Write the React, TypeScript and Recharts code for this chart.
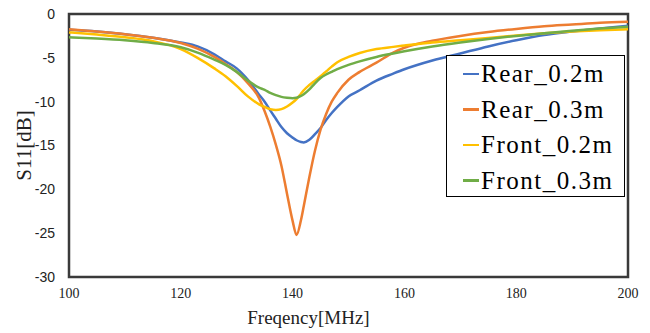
import { LineChart, Line, XAxis, YAxis, ReferenceArea, Label } from 'recharts'

const freq = [100, 105, 110, 115, 120, 123, 126, 128, 130, 132, 134, 135, 136, 137, 138, 139, 140, 140.7, 141.5, 142, 143, 144, 145, 146, 147, 148, 150, 152, 155, 158, 160, 165, 170, 175, 180, 185, 190, 195, 200]

const rear02 = [-1.8, -2.0, -2.3, -2.7, -3.25, -3.7, -4.6, -5.4, -6.2, -7.5, -9.2, -10.0, -11.0, -11.95, -12.9, -13.6, -14.1, -14.4, -14.6, -14.65, -14.35, -13.7, -13.0, -12.1, -11.3, -10.6, -9.4, -8.7, -7.6, -6.8, -6.3, -5.3, -4.5, -3.7, -3.0, -2.4, -2.0, -1.65, -1.35]
const rear03 = [-1.75, -2.0, -2.3, -2.7, -3.3, -3.95, -4.9, -5.7, -6.6, -7.9, -9.6, -11.1, -12.85, -14.9, -17.3, -20.5, -23.6, -25.2, -23.5, -21.9, -18.6, -15.6, -13.2, -11.4, -10.0, -9.0, -7.5, -6.6, -5.55, -4.4, -3.85, -3.05, -2.5, -2.05, -1.7, -1.4, -1.2, -1.0, -0.88]
const front02 = [-2.1, -2.35, -2.65, -3.1, -4.0, -5.0, -6.2, -7.1, -8.2, -9.4, -10.3, -10.6, -10.85, -10.95, -10.85, -10.55, -10.1, -9.7, -9.1, -8.7, -8.1, -7.6, -7.1, -6.55, -6.0, -5.5, -4.9, -4.45, -4.0, -3.75, -3.6, -3.25, -3.0, -2.75, -2.45, -2.2, -2.0, -1.85, -1.75]
const front03 = [-2.65, -2.8, -3.0, -3.3, -3.8, -4.4, -5.2, -5.8, -6.6, -7.6, -8.4, -8.65, -9.0, -9.25, -9.45, -9.55, -9.6, -9.55, -9.35, -9.15, -8.6, -7.9, -7.3, -6.9, -6.6, -6.3, -5.8, -5.4, -4.9, -4.5, -4.25, -3.7, -3.25, -2.85, -2.5, -2.2, -1.9, -1.65, -1.45]

const xTicks = [100, 120, 140, 160, 180, 200]
const yTicks = [0, -5, -10, -15, -20, -25, -30]

const series = [
  { key: 'rear02', label: 'Rear_0.2m', color: '#4472C4' },
  { key: 'rear03', label: 'Rear_0.3m', color: '#ED7D31' },
  { key: 'front02', label: 'Front_0.2m', color: '#FFC000' },
  { key: 'front03', label: 'Front_0.3m', color: '#70AD47' },
]

const data = freq.map((f, i) => ({
  f,
  rear02: rear02[i],
  rear03: rear03[i],
  front02: front02[i],
  front03: front03[i],
}))

const serif = '"Liberation Serif", "Times New Roman", serif'

function LegendBox() {
  return (
    <div
      style={{
        position: 'absolute',
        left: 446,
        top: 55,
        width: 177,
        height: 140,
        border: '1px solid #000',
        background: '#fff',
      }}
    >
      {series.map((s) => (
        <div key={s.key} style={{ height: 35.5, display: 'flex', alignItems: 'center' }}>
          <div style={{ width: 16, height: 2.5, background: s.color, marginLeft: 16, marginRight: 2 }} />
          <span style={{ fontFamily: serif, fontSize: 25, letterSpacing: 1.5, color: '#000', lineHeight: 1 }}>{s.label}</span>
        </div>
      ))}
    </div>
  )
}

export default function App() {
  return (
    <div style={{ position: 'absolute', left: 0, top: 0, width: 650, height: 333, background: '#fff' }}>
      <LineChart width={650} height={333} data={data} margin={{ top: 14, right: 22, left: 0, bottom: 26 }}>
        <XAxis
          dataKey="f"
          type="number"
          domain={[100, 200]}
          ticks={xTicks}
          axisLine={false}
          tickLine={false}
          tickSize={6}
          tickMargin={5}
          tick={{ fontSize: 14, fill: '#222', fontFamily: serif }}
        >
          <Label value="Freqency[MHz]" position="insideBottom" offset={-17} dx={-40} style={{ fontFamily: serif, fontSize: 19, fill: '#222' }} />
        </XAxis>
        <YAxis
          type="number"
          domain={[-30, 0]}
          ticks={yTicks}
          width={69}
          axisLine={false}
          tickLine={false}
          tickSize={6}
          tickMargin={8}
          tick={{ fontSize: 14, fill: '#222', fontFamily: 'Liberation Sans' }}
        >
          <Label value="S11[dB]" angle={-90} position="insideLeft" offset={24} style={{ fontFamily: serif, fontSize: 21, fill: '#222', textAnchor: 'middle' }} />
        </YAxis>
        <ReferenceArea x1={100} x2={200} y1={-30} y2={0} fill="none" stroke="#3a3a3a" strokeWidth={2.5} />
        {series.map((s) => (
          <Line
            key={s.key}
            type="monotone"
            dataKey={s.key}
            name={s.label}
            stroke={s.color}
            strokeWidth={2.5}
            dot={false}
            activeDot={false}
            isAnimationActive={false}
          />
        ))}
      </LineChart>
      <LegendBox />
    </div>
  )
}
